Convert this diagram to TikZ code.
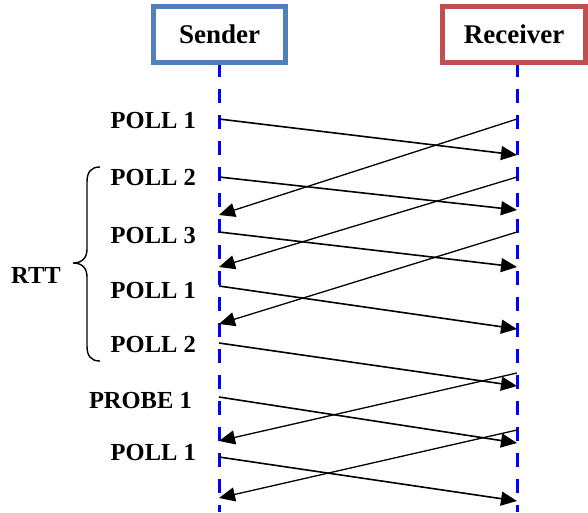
\documentclass[tikz,border=0pt]{standalone}
\usepackage{fontspec}
\setmainfont{Liberation Serif}
\usetikzlibrary{arrows.meta}
\definecolor{sendblue}{HTML}{4F81BD}
\definecolor{recvred}{HTML}{C0504D}
\tikzstyle{arrow} = [line width=1.6pt,-{Triangle[length=16pt,width=14pt]}]
\tikzstyle{reply} = [line width=1.3pt,-{Triangle[length=16pt,width=14pt]}]
\tikzstyle{lifeline} = [line width=3pt,blue,dash pattern=on 14pt off 12pt]
\tikzstyle{party} = [draw,line width=5pt,fill=white,inner sep=0pt,minimum height=56pt,font=\fontsize{27}{30}\selectfont\bfseries]
\tikzstyle{msg} = [inner sep=0pt,font=\fontsize{24.5}{28}\selectfont\bfseries]

\begin{document}
\begin{tikzpicture}[x=1pt,y=-1pt]
\useasboundingbox (0,0) rectangle (588,512);

\coordinate (stop) at (219,63);
\coordinate (sbot) at (219,512);
\coordinate (rtop) at (517,63);
\coordinate (rbot) at (517,512);
\draw[lifeline] (stop) -- (sbot);
\draw[lifeline] (rtop) -- (rbot);

\node[party,draw=sendblue,minimum width=132pt] (sender) at (219.5,34.5) {Sender};
\node[party,draw=recvred,minimum width=143pt] (receiver) at (514,34.5) {Receiver};

\foreach \i/\a/\b/\c/\x/\t in {1/119/155/128/196/POLL 1, 2/177/210/185/196/POLL 2, 3/232/267/243/196/POLL 3, 4/286/329/298/196/POLL 1, 5/343/386/352/196/POLL 2, 6/397/443/408/192/PROBE 1, 7/457/501/460/196/POLL 1}
{
\coordinate (s\i) at (219,\a);
\coordinate (r\i) at (517,\b);
\draw[arrow] (s\i) -- (r\i);
\node[msg,anchor=base east] (m\i) at (\x,\c) {\t};
}

\foreach \i/\a/\b in {1/119/215, 2/177/267, 3/232/324, 4/373/441, 5/430/498}
{
\coordinate (rr\i) at (517,\a);
\coordinate (ss\i) at (219,\b);
\draw[reply] (rr\i) -- (ss\i);
}

\draw[line width=1.4pt] (100,167) .. controls (91,167) and (87,172) .. (87,182) -- (87,249)
  .. controls (87,258) and (82,263) .. (73,263) .. controls (82,263) and (87,268) .. (87,277)
  -- (87,346) .. controls (87,356) and (91,361) .. (100,361);
\node[msg,anchor=base west] (rtt) at (11,283) {RTT};
\end{tikzpicture}
\end{document}
